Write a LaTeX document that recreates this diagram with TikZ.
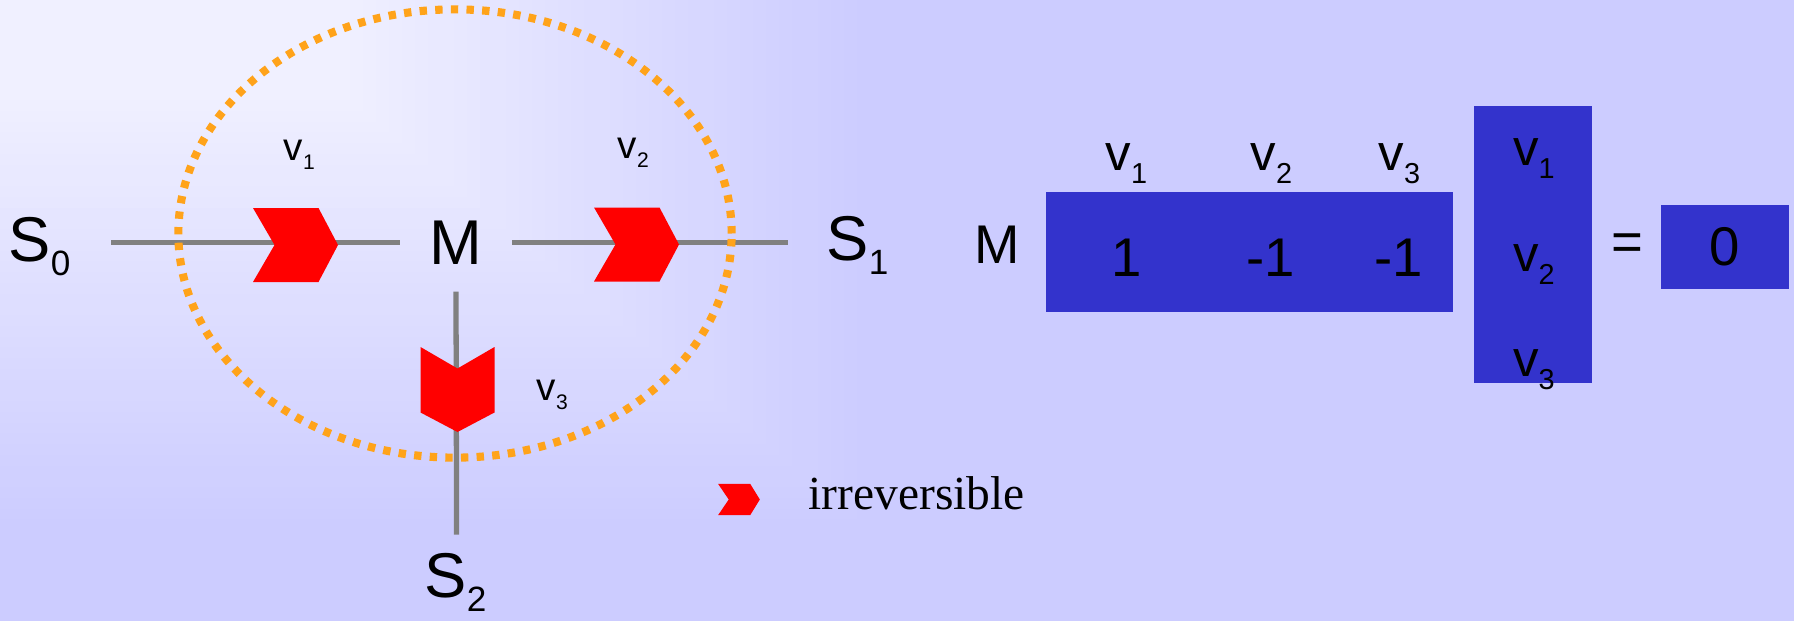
\documentclass[tikz,border=0pt]{standalone}
\usepackage{fontspec}
\setmainfont{Liberation Sans}
\newfontfamily\legendfont{Liberation Serif}
\usetikzlibrary{positioning}

\definecolor{bgblue}{RGB}{204,204,255}
\definecolor{boxblue}{RGB}{51,51,204}
\definecolor{dotorange}{RGB}{255,163,26}
\definecolor{fluxgray}{RGB}{128,128,128}
\newcommand{\lowidx}[3]{\raisebox{-#1}{\fontsize{#2}{#2}\selectfont #3}}

\begin{document}
\begin{tikzpicture}[
        x=0.01cm, y=-0.01cm,
        species/.style={
            anchor=base west,
            inner sep=0pt,
            font=\fontsize{18}{20}\selectfont
        },
        flux/.style={draw=fluxgray, line width=1.5pt},
        ratelabel/.style={
            anchor=base west,
            inner sep=0pt,
            font=\fontsize{11}{13}\selectfont
        },
        veclabel/.style={
            anchor=base west,
            inner sep=0pt,
            font=\fontsize{14.5}{16}\selectfont
        },
        entry/.style={
            anchor=base,
            inner sep=0pt,
            font=\fontsize{15.5}{17}\selectfont
        },
        matbox/.style={fill=boxblue, inner sep=0pt},
        dotring/.style={
            draw=dotorange,
            line width=2.3pt,
            dash pattern=on 2.1pt off 2.35pt
        },
        pics/chevron/.style={
            code={\fill[red] (-42.5,-37) -- (23,-37) -- (42.5,0) -- (23,37)
                -- (-42.5,37) -- (-21,0) -- cycle;}
        }
    ]
        \useasboundingbox (0,0) rectangle (1794,621);

        % background
        \fill[bgblue] (0,0) rectangle (1794,621);
        \foreach \k [evaluate=\k as \w using int((40-\k)*1.75)] in {40,...,0} {
            \fill[white!\w!bgblue] (0,0) rectangle (350+\k*13,100+\k*10.75);
        }

        % network
        \node[species] (S0) at (8,261) {S\lowidx{4pt}{10}{0}};
        \node[species] (S1) at (826,260.7) {S\lowidx{4pt}{10}{1}};
        \node[species] (S2) at (424,597) {S\lowidx{4pt}{10}{2}};
        \node[inner sep=0pt, minimum width=1.11cm, minimum height=0.97cm,
            font=\fontsize{18}{20}\selectfont] (M) at (456,242.5) {M};

        \coordinate (in0) at (111,242.5);
        \coordinate (out1) at (788,242.5);
        \coordinate (out2) at (456.6,534.6);
        \draw[flux] (in0) -- (M.west);
        \draw[flux] (M.east) -- (out1);
        \draw[flux] (M.south) -- (out2);

        \pic (chev1) at (295.5,245) {chevron};
        \pic (chev2) at (636.5,244.5) {chevron};
        \pic[rotate=-90] (chev3) at (457.5,389.5) {chevron};

        \node[ratelabel] (r1) at (283,160.4) {v\lowidx{2.6pt}{6}{1}};
        \node[ratelabel] (r2) at (617,158.4) {v\lowidx{2.6pt}{6}{2}};
        \node[ratelabel] (r3) at (536,400) {v\lowidx{2.6pt}{6}{3}};

        \draw[dotring] (455,233.5) ellipse [x radius=2.765cm, y radius=2.24cm];

        % legend
        \pic[xscale=0.49, yscale=0.42] (legchev) at (739,499.5) {chevron};
        \node[anchor=base west, inner sep=0pt, font=\legendfont\fontsize{13.5}{15}\selectfont]
            (legtext) at (808,509) {irreversible};

        % stoichiometric matrix times rate vector
        \node[matbox, minimum width=4.07cm, minimum height=1.20cm] (row) at (1249.5,252) {};
        \node[matbox, minimum width=1.18cm, minimum height=2.76cm] (vec) at (1533,244.5) {};
        \node[matbox, minimum width=1.28cm, minimum height=0.84cm,
            font=\fontsize{15.5}{17}\selectfont] (zero) at (1725,247) {0};

        \node[entry] (mrow) at (997,263.3) {M};
        \node[entry] (e1) at (1127,276) {1};
        \node[entry] (e2) at (1271,276) {-1};
        \node[entry] (e3) at (1398.5,276) {-1};
        \node[font=\fontsize{15.5}{17}\selectfont, inner sep=0pt] (eq) at (1627,247) {=};

        \foreach \i/\x in {1/1105,2/1250,3/1378} {
            \node[veclabel] (h\i) at (\x,170) {v\lowidx{3.7pt}{8.2}{\i}};
        }
        \foreach \i/\y in {1/165,2/271.7,3/376} {
            \node[veclabel] (c\i) at (1512.4,\y) {v\lowidx{3.7pt}{8.2}{\i}};
        }
    \end{tikzpicture}
\end{document}
